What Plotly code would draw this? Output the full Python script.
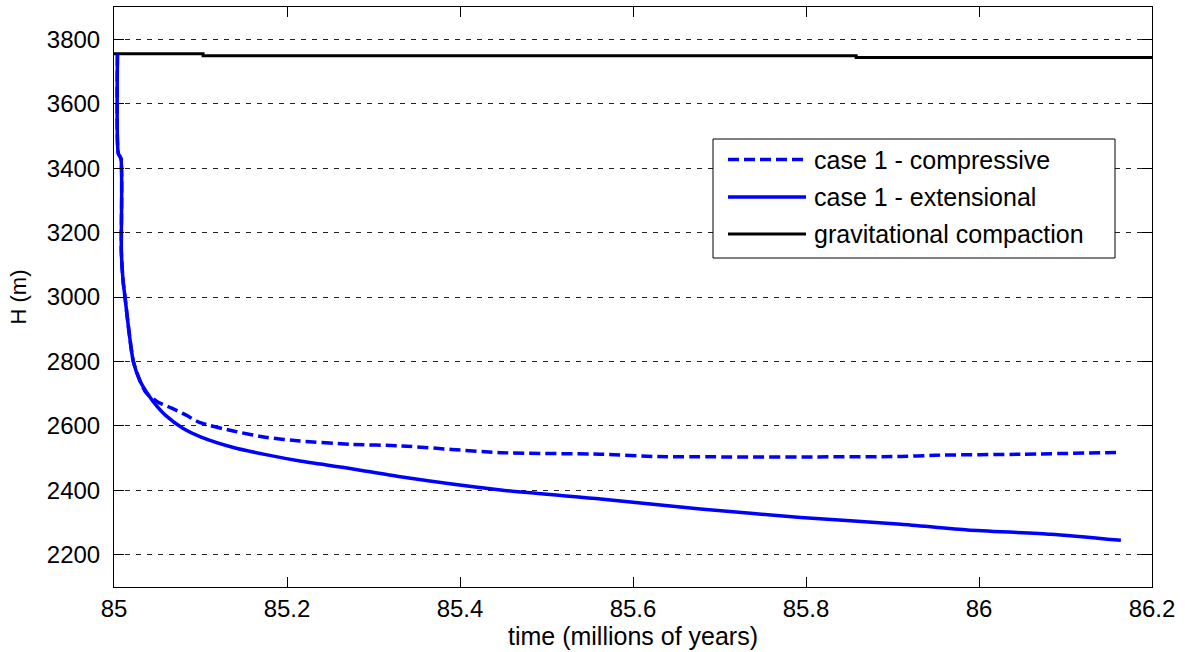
import plotly.graph_objects as go

# ---- data ----
t_ext = [85.004, 85.005, 85.008, 85.0085, 85.0105, 85.0127, 85.017, 85.0223, 85.030,
         85.040, 85.050, 85.060, 85.080, 85.100, 85.138, 85.177, 85.215, 85.273,
         85.331, 85.447, 85.5625, 85.678, 85.794, 85.91, 85.987, 86.083, 86.164]
h_ext = [3753, 3445, 3430, 3140, 3050, 3000, 2900, 2800, 2740,
         2695, 2660, 2632, 2592, 2566, 2533, 2510, 2491, 2468,
         2442, 2401, 2373, 2342, 2316, 2295, 2277, 2264, 2245]

t_comp = [85.004, 85.005, 85.008, 85.0085, 85.0105, 85.0127, 85.017, 85.0223, 85.030,
          85.037, 85.050, 85.0667, 85.083, 85.0995, 85.138, 85.177, 85.215, 85.273,
          85.331, 85.447, 85.5625, 85.628, 85.91, 85.95, 86.05, 86.164]
h_comp = [3753, 3445, 3430, 3140, 3050, 3000, 2900, 2800, 2740,
          2703, 2675, 2655, 2634, 2610, 2584, 2564, 2553, 2543,
          2538, 2517, 2512, 2505, 2505, 2509, 2512, 2518]

t_grav = [85.0, 85.103, 85.858, 86.2]
h_grav = [3755, 3749, 3743, 3743]

x_ticks = [85, 85.2, 85.4, 85.6, 85.8, 86, 86.2]
x_tick_labels = ["85", "85.2", "85.4", "85.6", "85.8", "86", "86.2"]
y_ticks = [2200, 2400, 2600, 2800, 3000, 3200, 3400, 3600, 3800]

legend_names = ["case 1 - compressive", "case 1 - extensional", "gravitational compaction"]
legend_colors = ["#0000ff", "#0000ff", "#000000"]
legend_dashes = ["11px,5px", "solid", "solid"]

FONT = "Liberation Sans, Arial, sans-serif"

fig = go.Figure()
fig.add_trace(go.Scatter(x=t_grav, y=h_grav, mode="lines", line_shape="hv",
                         line=dict(color="#000000", width=3), name=legend_names[2], showlegend=False))
fig.add_trace(go.Scatter(x=t_comp, y=h_comp, mode="lines", line_shape="spline",
                         line=dict(color="#0000ff", width=3.5, dash="11px,5px", smoothing=0.6),
                         name=legend_names[0], showlegend=False))
fig.add_trace(go.Scatter(x=t_ext, y=h_ext, mode="lines", line_shape="spline",
                         line=dict(color="#0000ff", width=3.5, smoothing=0.6),
                         name=legend_names[1], showlegend=False))

# manual legend (MATLAB style long samples)
L, R, T, B = 713, 1115, 139, 258
W, H = 1185, 652
ml, mr, mt, mb = 114, 33, 7, 65
pw, ph = W - ml - mr, H - mt - mb
def px(x): return (x - ml) / pw
def py(y): return (H - mb - y) / ph

shapes = [dict(type="rect", xref="paper", yref="paper", x0=px(L), x1=px(R), y0=py(B), y1=py(T),
               line=dict(color="black", width=1), fillcolor="white", layer="above")]
annotations = []
rows = [159.5, 197, 234]
for i, name in enumerate(legend_names):
    shapes.append(dict(type="line", xref="paper", yref="paper", x0=px(728), x1=px(806),
                       y0=py(rows[i]), y1=py(rows[i]),
                       line=dict(color=legend_colors[i], width=3 if i == 2 else 3.5,
                                 dash=legend_dashes[i]), layer="above"))
    annotations.append(dict(xref="paper", yref="paper", x=px(812), y=py(rows[i]),
                            xanchor="left", yanchor="middle", text=name, showarrow=False,
                            font=dict(family=FONT, size=25, color="black")))

fig.update_layout(
    width=W, height=H,
    margin=dict(l=ml, r=mr, t=mt, b=mb),
    paper_bgcolor="white", plot_bgcolor="white",
    font=dict(family=FONT, size=24, color="black"),
    shapes=shapes, annotations=annotations,
    showlegend=False,
)
fig.update_xaxes(range=[85, 86.2], tickvals=x_ticks, ticktext=x_tick_labels,
                 showgrid=False, zeroline=False,
                 showline=True, linecolor="black", linewidth=1, mirror="ticks",
                 ticks="inside", ticklen=10, tickcolor="black", tickfont=dict(size=24),
                 title=dict(text="time (millions of years)", font=dict(size=25), standoff=2))
fig.update_yaxes(range=[2100, 3900], tickvals=y_ticks,
                 showgrid=True, gridcolor="#222222", gridwidth=1, griddash="5px,6px",
                 zeroline=False,
                 showline=True, linecolor="black", linewidth=1, mirror="ticks",
                 ticks="inside", ticklen=10, tickcolor="black", ticklabelstandoff=8,
                 tickfont=dict(size=24),
                 title=dict(text="H (m)", font=dict(size=22), standoff=14))

fig.write_html("out.html")
